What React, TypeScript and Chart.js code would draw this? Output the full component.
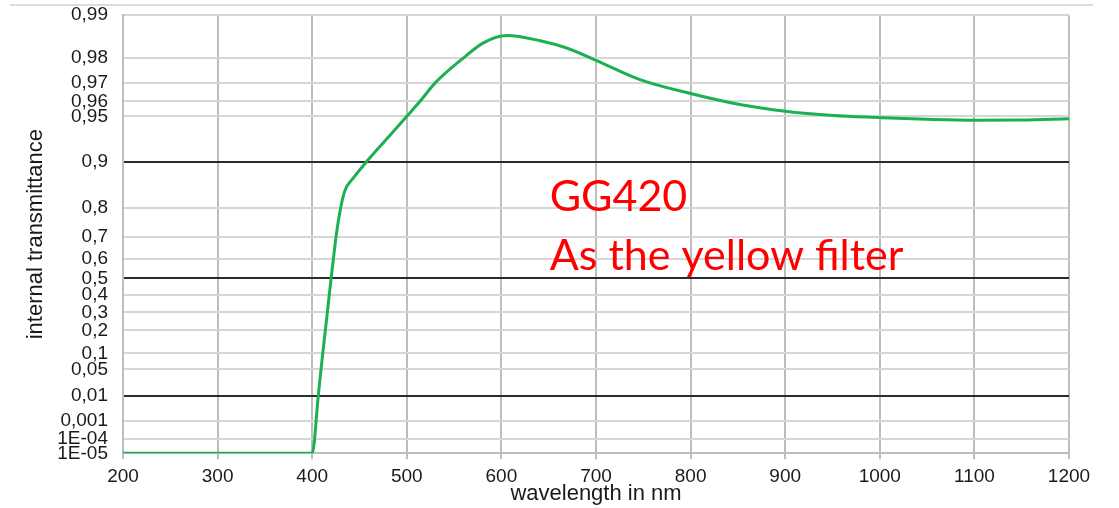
import React, { useEffect, useRef } from "react";
import { Chart, registerables, LinearScale } from "chart.js";

Chart.register(...registerables);

// ---- data ----
const WAVELENGTHS = [
  200, 300, 400, 406.4, 409.3, 413.9, 420, 422.4, 425.2, 430.1, 434.7, 443.4, 457.6,
  478.7, 500, 514, 530, 560, 581, 605.6, 641, 669, 700, 746.5, 800, 852, 900, 951,
  1000, 1050, 1100, 1150, 1200,
];
const TRANSMITTANCE = [
  1e-5, 1e-5, 1e-5, 0.01, 0.05, 0.2, 0.5, 0.6, 0.7, 0.8, 0.838, 0.864, 0.9, 0.925,
  0.95, 0.96, 0.97, 0.98, 0.9835, 0.9852, 0.984, 0.9823, 0.979, 0.9713, 0.9642,
  0.9578, 0.9533, 0.9505, 0.9486, 0.9467, 0.9456, 0.9458, 0.9474,
];

// y axis: tick values (ascending), their labels, and their place on the axis (0 = bottom, 1 = top)
const Y_TICK_VALUES = [
  1e-5, 1e-4, 0.001, 0.01, 0.05, 0.1, 0.2, 0.3, 0.4, 0.5, 0.6, 0.7, 0.8, 0.9, 0.95,
  0.96, 0.97, 0.98, 0.99,
];
const Y_TICK_LABELS = [
  "1E-05", "1E-04", "0,001", "0,01", "0,05", "0,1", "0,2", "0,3", "0,4", "0,5",
  "0,6", "0,7", "0,8", "0,9", "0,95", "0,96", "0,97", "0,98", "0,99",
];
const Y_TICK_FRACTIONS = [
  0, 0.0333, 0.0737, 0.1307, 0.1916, 0.2282, 0.2806, 0.3217, 0.3612, 0.3993,
  0.4433, 0.4942, 0.5603, 0.6656, 0.7689, 0.8031, 0.8451, 0.9023, 1,
];
const EMPHASIS_TICKS = [0.9, 0.5, 0.01];

const X_MIN = 200;
const X_MAX = 1200;
const X_STEP = 100;

const ANNOTATION_LINES = ["GG420", "As the yellow filter"];
const ANNOTATION_X_NM = 651;

function valueToFraction(v: number): number {
  const vs = Y_TICK_VALUES;
  const fs = Y_TICK_FRACTIONS;
  if (v <= vs[0]) return fs[0];
  for (let i = 1; i < vs.length; i++) {
    if (v <= vs[i]) {
      const t = (v - vs[i - 1]) / (vs[i] - vs[i - 1]);
      return fs[i - 1] + t * (fs[i] - fs[i - 1]);
    }
  }
  const n = vs.length - 1;
  return fs[n] + ((v - vs[n]) / (vs[n] - vs[n - 1])) * (fs[n] - fs[n - 1]);
}

function fractionToValue(f: number): number {
  const vs = Y_TICK_VALUES;
  const fs = Y_TICK_FRACTIONS;
  if (f <= fs[0]) return vs[0];
  for (let i = 1; i < fs.length; i++) {
    if (f <= fs[i]) {
      const t = (f - fs[i - 1]) / (fs[i] - fs[i - 1]);
      return vs[i - 1] + t * (vs[i] - vs[i - 1]);
    }
  }
  return vs[vs.length - 1];
}

class TransmittanceScale extends LinearScale {
  static id = "transmittance";
  static defaults = { ...(LinearScale as any).defaults };
  buildTicks() {
    return Y_TICK_VALUES.map((v) => ({ value: v }));
  }
  getPixelForValue(value: number) {
    const s: any = this;
    const f = valueToFraction(value);
    return s.bottom - f * (s.bottom - s.top);
  }
  getValueForPixel(pixel: number) {
    const s: any = this;
    return fractionToValue((s.bottom - pixel) / (s.bottom - s.top));
  }
}
Chart.register(TransmittanceScale as any);

const FONT = "'Liberation Sans', Arial, sans-serif";

const annotationPlugin = {
  id: "annotationText",
  afterDatasetsDraw(chart: any) {
    const { ctx, chartArea, scales } = chart;
    const x = scales.x.getPixelForValue(ANNOTATION_X_NM);
    ctx.save();
    ctx.fillStyle = "#ff0000";
    ctx.font = "43px Lato, 'Open Sans', sans-serif";
    ctx.textBaseline = "alphabetic";
    ctx.textAlign = "left";
    ANNOTATION_LINES.forEach((line, i) => {
      ctx.fillText(line, x, chartArea.top + 196 + i * 58.5);
    });
    ctx.restore();
  },
};

export default function App() {
  const ref = useRef<HTMLCanvasElement | null>(null);

  useEffect(() => {
    if (!ref.current) return;
    const points = WAVELENGTHS.map((w, i) => ({ x: w, y: TRANSMITTANCE[i] }));
    const chart = new Chart(ref.current, {
      type: "line",
      data: {
        datasets: [
          {
            data: points,
            borderColor: "#1db052",
            borderWidth: 3,
            pointRadius: 0,
            fill: false,
            cubicInterpolationMode: "monotone",
          },
        ],
      },
      options: {
        animation: false,
        responsive: false,
        devicePixelRatio: 1,
        layout: { padding: { top: 15, right: 50, left: 0, bottom: 0 } },
        plugins: { legend: { display: false }, tooltip: { enabled: false } },
        scales: {
          x: {
            type: "linear",
            min: X_MIN,
            max: X_MAX,
            afterFit: (s: any) => {
              s.height = 54.7;
              s.paddingLeft = 0;
              s.paddingRight = 0;
            },
            ticks: {
              stepSize: X_STEP,
              color: "#1a1a1a",
              font: { family: FONT, size: 19 },
              padding: 6,
              maxRotation: 0,
              callback: (v: any) => String(v),
            },
            grid: {
              color: "#bdbdbd",
              lineWidth: 2,
              tickLength: 6,
              drawTicks: true,
            },
            border: { color: "#bdbdbd", width: 2 },
            title: {
              display: true,
              text: "wavelength in nm",
              color: "#1a1a1a",
              font: { family: FONT, size: 22, lineHeight: 1.2 },
              padding: { top: 0, bottom: 1 },
            },
          },
          y: {
            type: "transmittance" as any,
            min: 1e-5,
            max: 0.99,
            afterFit: (s: any) => {
              s.width = 123;
              s.paddingTop = 0;
              s.paddingBottom = 0;
            },
            ticks: {
              autoSkip: false,
              color: "#1a1a1a",
              font: { family: FONT, size: 19 },
              padding: 15,
              callback: (v: any) => {
                const i = Y_TICK_VALUES.indexOf(v);
                return i >= 0 ? Y_TICK_LABELS[i] : "";
              },
            },
            grid: {
              drawTicks: false,
              color: (c: any) =>
                c.tick && EMPHASIS_TICKS.includes(c.tick.value) ? "#2b2b2b" : "#d6d6d6",
              lineWidth: 2,
            },
            border: { color: "#bdbdbd", width: 2 },
            title: {
              display: true,
              text: "internal transmittance",
              color: "#1a1a1a",
              font: { family: FONT, size: 22, lineHeight: 1.2 },
              padding: { top: 23, bottom: 0 },
            },
          },
        },
      },
      plugins: [annotationPlugin],
    });
    return () => chart.destroy();
  }, []);

  return (
    <div style={{ position: "absolute", left: 0, top: 0, width: 1119, height: 508, background: "#fff" }}>
      <div
        style={{
          position: "absolute",
          left: 10,
          top: 4,
          width: 1083,
          height: 2,
          background: "#dcdcdc",
        }}
      />
      <canvas ref={ref} width={1119} height={508} style={{ display: "block" }} />
    </div>
  );
}
